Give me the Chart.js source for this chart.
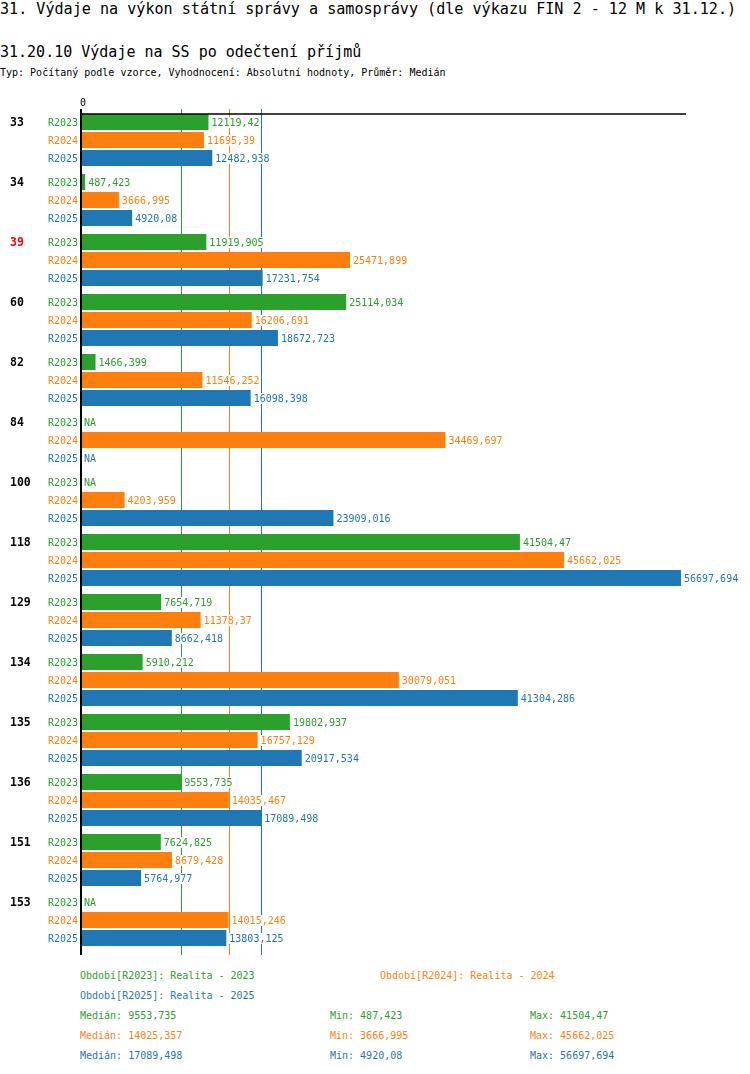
<!DOCTYPE html>
<html>
<head>
<meta charset="utf-8">
<script src="https://cdn.jsdelivr.net/npm/chart.js@4/dist/chart.umd.min.js"></script>
<style>
  body { margin: 0; background: #fff; font-family: 'DejaVu Sans Mono', monospace; }
  .t { position: absolute; white-space: pre; color: #000; }
  #title { left: 0; top: 1px; font-size: 15.1px; line-height: 16px; }
  #sub { left: 0; top: 44px; font-size: 15px; line-height: 16px; }
  #info { left: 0; top: 67px; font-size: 10px; line-height: 12px; }
  .leg { font-size: 10px; line-height: 20px; }
  #wrap { position: absolute; left: 0; top: 90px; width: 750px; height: 870px; }
</style>
</head>
<body>
<div class="t" id="title">31. Výdaje na výkon státní správy a samosprávy (dle výkazu FIN 2 - 12 M k 31.12.)</div>
<div class="t" id="sub">31.20.10 Výdaje na SS po odečtení příjmů</div>
<div class="t" id="info">Typ: Počítaný podle vzorce, Vyhodnocení: Absolutní hodnoty, Průměr: Medián</div>
<div id="wrap"><canvas id="myChart" width="750" height="870"></canvas></div>
<div id="legend"></div>
<script>
const categories = ['33', '34', '39', '60', '82', '84', '100', '118', '129', '134', '135', '136', '151', '153'];
const highlighted = ['39'];
const seriesNames = ['R2023', 'R2024', 'R2025'];
const seriesTitles = ['Realita - 2023', 'Realita - 2024', 'Realita - 2025'];
const seriesColors = ['#2ca02c', '#ff7f0e', '#1f77b4'];

const r2023 = [12119.42, 487.423, 11919.905, 25114.034, 1466.399, null, null, 41504.47, 7654.719, 5910.212, 19802.937, 9553.735, 7624.825, null];
const r2024 = [11695.39, 3666.995, 25471.899, 16206.691, 11546.252, 34469.697, 4203.959, 45662.025, 11378.37, 30079.051, 16757.129, 14035.467, 8679.428, 14015.246];
const r2025 = [12482.938, 4920.08, 17231.754, 18672.723, 16098.398, null, 23909.016, 56697.694, 8662.418, 41304.286, 20917.534, 17089.498, 5764.977, 13803.125];

const medians = [9553.735, 14025.357, 17089.498];
const mins = [487.423, 3666.995, 4920.08];
const maxs = [41504.47, 45662.025, 56697.694];
const axisMax = 57170;

const FONT = "'DejaVu Sans Mono', monospace";
const fmt = v => String(v).replace('.', ',');

const ctx = document.getElementById('myChart');

const overlay = {
  id: 'overlay',
  beforeDatasetsDraw(chart) {
    const c = chart.ctx, a = chart.chartArea, x = chart.scales.x;
    c.save();
    c.lineWidth = 1;
    medians.forEach((m, i) => {
      const px = Math.round(x.getPixelForValue(m)) + 0.5;
      c.strokeStyle = seriesColors[i];
      c.beginPath();
      c.moveTo(px, a.top - 1);
      c.lineTo(px, a.bottom + 5);
      c.stroke();
    });
    c.restore();
  },
  afterDatasetsDraw(chart) {
    const c = chart.ctx, a = chart.chartArea, x = chart.scales.x;
    const x0 = x.getPixelForValue(0);
    c.save();
    // top axis line
    c.strokeStyle = '#000';
    c.lineWidth = 1.5;
    c.beginPath();
    c.moveTo(x0, a.top + 4);
    c.lineTo(a.right, a.top + 4);
    c.stroke();
    // left axis line
    c.lineWidth = 2;
    c.beginPath();
    c.moveTo(x0 + 1, a.top - 1);
    c.lineTo(x0 + 1, a.bottom + 5);
    c.stroke();
    c.fillStyle = '#000';
    c.font = '10px ' + FONT;
    c.textAlign = 'left';
    c.textBaseline = 'middle';
    c.fillText('0', x0, a.top - 7);

    chart.data.datasets.forEach((ds, di) => {
      const meta = chart.getDatasetMeta(di);
      meta.data.forEach((bar, i) => {
        const y = bar.y;
        if (di === 0) {
          c.font = 'bold 11.5px ' + FONT;
          c.fillStyle = highlighted.includes(categories[i]) ? '#ff0000' : '#000';
          c.textAlign = 'left';
          c.fillText(categories[i], 10, y + 1);
        }
        c.font = '10px ' + FONT;
        c.fillStyle = seriesColors[di];
        c.textAlign = 'right';
        c.fillText(seriesNames[di], x0 - 2, y + 1);
        c.textAlign = 'left';
        const v = ds.data[i];
        const txt = v === null ? 'NA' : fmt(v);
        const tx = v === null ? x0 + 4 : bar.x + 3;
        const w = c.measureText(txt).width;
        c.fillStyle = '#fff';
        c.fillRect(tx - 1, y - 5, w + 2, 11);
        c.fillStyle = seriesColors[di];
        c.fillText(txt, tx, y + 1);
      });
    });
    c.restore();
  }
};

new Chart(ctx, {
  type: 'bar',
  data: {
    labels: categories,
    datasets: [
      { label: seriesNames[0], data: r2023, backgroundColor: seriesColors[0] },
      { label: seriesNames[1], data: r2024, backgroundColor: seriesColors[1] },
      { label: seriesNames[2], data: r2025, backgroundColor: seriesColors[2] }
    ]
  },
  options: {
    indexAxis: 'y',
    responsive: false,
    animation: false,
    devicePixelRatio: 1,
    events: [],
    layout: { padding: { left: 80, right: 64, top: 20, bottom: 10 } },
    categoryPercentage: 0.9,
    barPercentage: 16 / 18,
    scales: {
      x: { display: false, min: 0, max: axisMax },
      y: { display: false }
    },
    plugins: {
      legend: { display: false },
      tooltip: { enabled: false }
    }
  },
  plugins: [overlay]
});

// legend and stats as text
const leg = document.getElementById('legend');
function addText(txt, left, top, color) {
  const d = document.createElement('div');
  d.className = 't leg';
  d.style.left = left + 'px';
  d.style.top = top + 'px';
  d.style.color = color;
  d.textContent = txt;
  leg.appendChild(d);
}
addText('Období[' + seriesNames[0] + ']: ' + seriesTitles[0], 80, 966, seriesColors[0]);
addText('Období[' + seriesNames[1] + ']: ' + seriesTitles[1], 380, 966, seriesColors[1]);
addText('Období[' + seriesNames[2] + ']: ' + seriesTitles[2], 80, 986, seriesColors[2]);
seriesNames.forEach((s, i) => {
  const top = 1006 + i * 20;
  addText('Medián: ' + fmt(medians[i]), 80, top, seriesColors[i]);
  addText('Min: ' + fmt(mins[i]), 330, top, seriesColors[i]);
  addText('Max: ' + fmt(maxs[i]), 530, top, seriesColors[i]);
});
</script>
</body>
</html>
